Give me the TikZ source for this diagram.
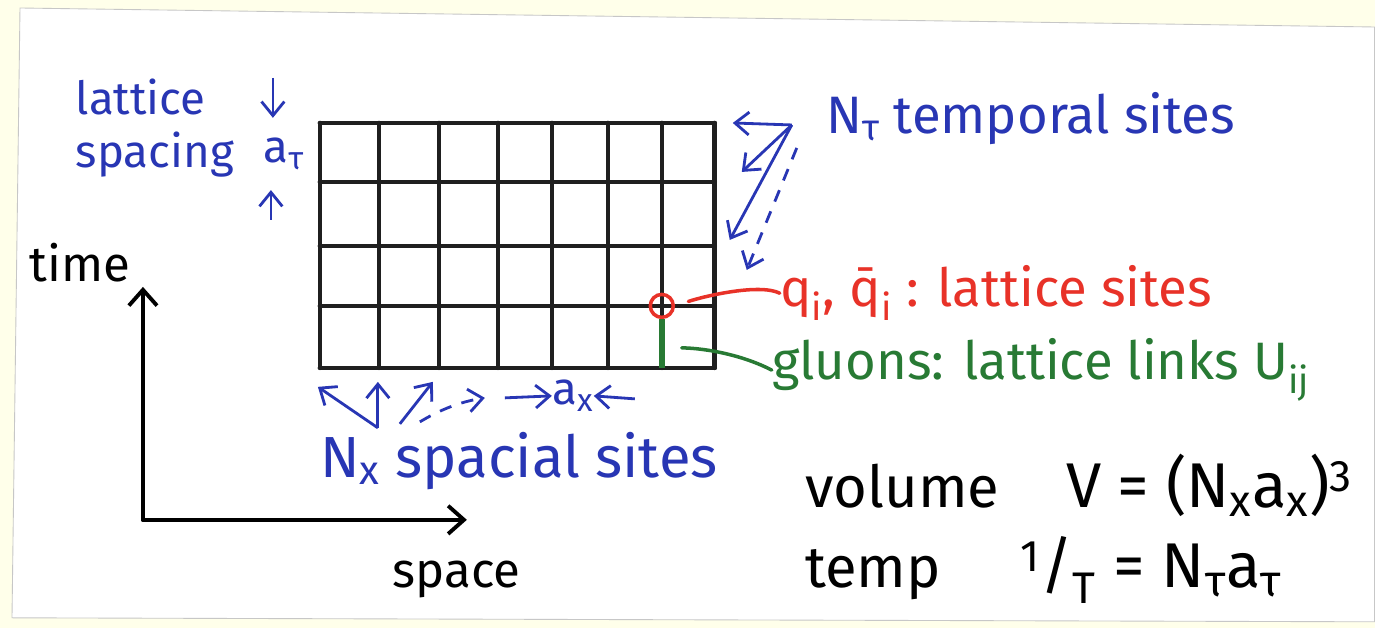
\documentclass[tikz,border=0pt]{standalone}
\usepackage{fontspec}
\setmainfont{Fira Sans}
\usepackage{tikz}
\usetikzlibrary{arrows.meta,positioning,calc}

\definecolor{ink}{RGB}{40,54,180}
\definecolor{inkred}{RGB}{232,50,40}
\definecolor{inkgreen}{RGB}{40,122,52}
\definecolor{paper}{RGB}{255,255,234}

\begin{document}
\begin{tikzpicture}[
    x=0.02cm, y=-0.02cm,
    gridline/.style={line width=2.6pt, color=black!88, line cap=round},
    hand/.style={inner sep=0pt, font=\fontsize{30}{34}\selectfont},
    smallhand/.style={inner sep=0pt, font=\fontsize{26}{30}\selectfont},
    bighand/.style={inner sep=0pt, font=\fontsize{33}{36}\selectfont},
    formula/.style={inner sep=0pt, font=\fontsize{36}{40}\selectfont},
    bluetext/.style={hand, text=ink},
    redtext/.style={hand, text=inkred},
    greentext/.style={hand, text=inkgreen},
    blacktext/.style={smallhand, font=\fontsize{28}{32}\selectfont, text=black},
    pointer/.style={->, >={Straight Barb[length=8pt,width=13pt]}, line width=1.6pt, color=ink},
    dashpointer/.style={pointer, dash pattern=on 7pt off 6pt},
    axis/.style={->, >={Straight Barb[length=9pt,width=16pt]}, line width=2.2pt, line cap=round},
    sitecirc/.style={circle, draw=inkred, line width=2pt, minimum size=0.46cm, inner sep=0pt},
    link/.style={line width=3.4pt, color=inkgreen},
    redline/.style={line width=2pt, color=inkred, line cap=round},
    greenline/.style={line width=2pt, color=inkgreen, line cap=round}
]
    % Paper
    \fill[paper] (0,0) rectangle (1375,628);
    \filldraw[fill=white, draw=black!22, line width=0.5pt]
        (20,8) -- (1375,27) -- (1375,622) -- (12,618) -- cycle;
    \useasboundingbox (0,0) rectangle (1375,628);

    % Lattice
    \foreach \gx in {320,379,439,498,552,608,662,715}
        \draw[gridline] (\gx,123) -- (\gx,368);
    \foreach \gy in {123,182,246,306,368}
        \draw[gridline] (320,\gy) -- (715,\gy);

    % Site and link
    \node[sitecirc] (site) at (662,306) {};
    \coordinate (linkend) at (662,368);
    \coordinate (linkmid) at (662,348);
    \draw[link] (site.south) -- (linkend);

    % Axes
    \coordinate (origin) at (143,520);
    \coordinate (timeend) at (143,287);
    \coordinate (spaceend) at (467,520);
    \draw[axis] (origin) -- (timeend);
    \draw[axis] (origin) -- (spaceend);
    \node[blacktext] (timelbl) at (80,263) {time};
    \node[blacktext] (spacelbl) at (457,580) {space};

    % Top left: lattice spacing
    \node[smallhand, text=ink, align=left] (spacinglbl) at (155,128) {lattice\\spacing};
    \node[smallhand, text=ink] (atau) at (284,154) {a\textsubscript{τ}};
    \coordinate (atautop) at (273,78);
    \coordinate (ataubot) at (271,220);
    \draw[pointer, shorten >=0.4cm] (atautop) -- (atautop |- atau.north);
    \draw[pointer, shorten >=0.4cm] (ataubot) -- (ataubot |- atau.south);

    % Top right: temporal sites
    \node[bluetext, anchor=base west] (temporallbl) at (826,134) {N\textsubscript{τ} temporal sites};
    \coordinate (tfan) at (792,125);
    \coordinate (tfanb) at (797,148);
    \coordinate (trow1) at (733,123);
    \coordinate (trow2) at (742,172);
    \coordinate (trow3) at (730,240);
    \coordinate (trow4) at (747,270);
    \draw[pointer] (tfan) -- (trow1);
    \draw[pointer] (tfan) -- (trow2);
    \draw[pointer] (tfan) -- (trow3);
    \draw[dashpointer] (tfanb) -- (trow4);

    % Bottom: spacial sites
    \node[bluetext, font=\fontsize{33}{36}\selectfont, anchor=base west] (spaciallbl) at (320,478) {N\textsubscript{x} spacial sites};
    \coordinate (xfan) at (378,428);
    \coordinate (xcol1) at (318,387);
    \coordinate (xcol2) at (378,382);
    \coordinate (xcol3) at (433,382);
    \coordinate (xcol4) at (485,398);
    \draw[pointer] (xfan) -- (xcol1);
    \draw[pointer] (xfan) -- (xcol2);
    \draw[pointer] (400,424) -- (xcol3);
    \draw[dashpointer] (420,422) .. controls (440,410) and (460,402) .. (xcol4);

    % Spacing a_x
    \node[smallhand, text=ink] (axlbl) at (573,396) {a\textsubscript{x}};
    \coordinate (axleft) at (505,398);
    \coordinate (axright) at (635,399);
    \draw[pointer] (axleft) -- (axlbl.west);
    \draw[pointer] (axright) -- (axlbl.east);

    % Labels on the right
    \node[redtext, anchor=base west] (sitelbl) at (780,307) {q\textsubscript{i}, q̄\textsubscript{i} : lattice sites};
    \node[greentext, anchor=base west] (linklbl) at (772,380) {gluons: lattice links U\textsubscript{ij}};
    \draw[redline, shorten >=0.28cm] (sitelbl.west) .. controls +(-20,-10) and +(30,-10) .. (site.east);
    \draw[greenline, shorten >=0.4cm] (linklbl.west) .. controls +(-35,-18) and +(35,0) .. (linkmid);

    % Volume and temperature
    \node[bighand, anchor=base west] (vollbl) at (805,508) {volume};
    \node[formula, anchor=base west] (voleq) at (1066,508) {V = (N\textsubscript{x}a\textsubscript{x})\textsuperscript{3}};
    \node[bighand, anchor=base west] (templbl) at (805,588) {temp};
    \node[formula, anchor=base west] (tempeq) at (1020,588) {\textsuperscript{1}/\textsubscript{T} = N\textsubscript{τ}a\textsubscript{τ}};
\end{tikzpicture}
\end{document}
